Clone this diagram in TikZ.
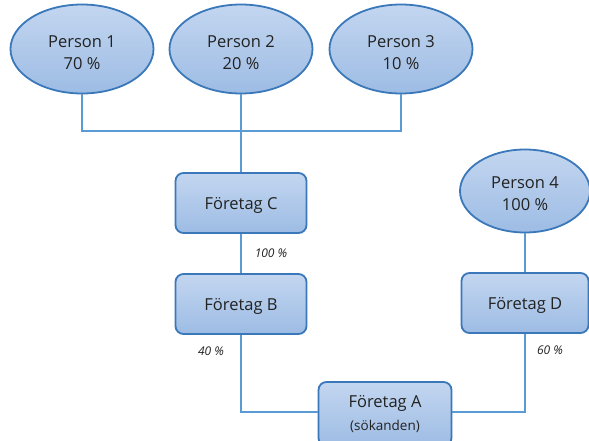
\documentclass[tikz,border=0pt]{standalone}
\usepackage{fontspec}
\setmainfont{Open Sans}
\usetikzlibrary{shapes.geometric}
\definecolor{bordc}{HTML}{3A78BA}
\definecolor{linec}{HTML}{5B9BD5}
\definecolor{filltop}{HTML}{C3D6F0}
\definecolor{fillbot}{HTML}{9DBCE4}
\definecolor{txt}{HTML}{222222}
\tikzset{
  x=1pt,y=-1pt,
  shapebase/.style={draw=bordc,line width=1.8pt,top color=filltop,bottom color=fillbot,inner sep=0pt},
  person/.style={shapebase,ellipse,minimum width=143pt,minimum height=89pt},
  company/.style={shapebase,rectangle,rounded corners=8pt,minimum width=131pt,minimum height=60pt},
  txtin/.style={label={[text=txt,font=\fontsize{16.5}{22}\selectfont,align=center,yshift=#1]center:}},
  conn/.style={draw=linec,line width=1.5pt},
  pct/.style={font=\fontsize{12}{14}\selectfont\itshape,text=txt},
  inlbl/.style={text=txt,font=\fontsize{16.5}{22}\selectfont,align=center}
}
\begin{document}
\begin{tikzpicture}
\useasboundingbox (0,0) rectangle (589,441);
\node[person,label={[inlbl,yshift=-4pt]center:Person 1\\70 \%}] (p1) at (82,49) {};
\node[person,label={[inlbl,yshift=-4pt]center:Person 2\\20 \%}] (p2) at (241,49) {};
\node[person,label={[inlbl,yshift=-4pt]center:Person 3\\10 \%}] (p3) at (401,49) {};
\node[person,minimum width=130pt,minimum height=83pt,label={[inlbl,yshift=-3pt]center:Person 4\\100 \%}] (p4) at (525,191) {};
\node[company,label={[inlbl,yshift=-2pt]center:Företag C}] (fc) at (241,203) {};
\node[company,label={[inlbl,yshift=-2pt]center:Företag B}] (fb) at (241,304) {};
\node[company,minimum width=127pt,label={[inlbl,yshift=-2pt]center:Företag D}] (fd) at (525,303) {};
\node[company,minimum width=133pt,minimum height=64pt,label={[inlbl,yshift=0pt]center:Företag A\\[1pt]{\fontsize{13.5}{16}\selectfont(sökanden)}}] (fa) at (385,414) {};
\coordinate (j1) at (82,131);
\coordinate (j3) at (401,131);
\coordinate (jb) at (241,412);
\coordinate (jd) at (525,412);
\draw[conn] (p1.south) -- (j1) -- (j3) -- (p3.south);
\draw[conn] (p2.south) -- (fc.north);
\draw[conn] (fc.south) -- (fb.north);
\draw[conn] (fb.south) -- (jb) -- (fa.west |- jb);
\draw[conn] (fa.east |- jd) -- (jd) -- (fd.south);
\draw[conn] (p4.south) -- (fd.north);
\node[pct] (l100) at (271,253) {100 \%};
\node[pct] (l40) at (211,351) {40 \%};
\node[pct] (l60) at (550,350) {60 \%};
\end{tikzpicture}
\end{document}
